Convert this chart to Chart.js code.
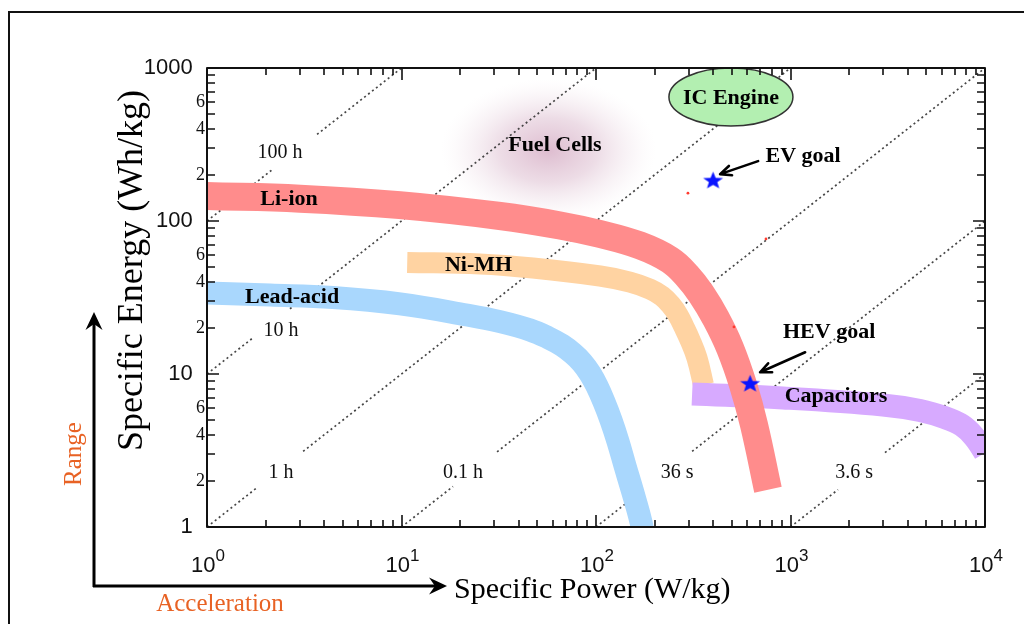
<!DOCTYPE html>
<html>
<head>
<meta charset="utf-8">
<script src="https://cdn.jsdelivr.net/npm/chart.js"></script>
<style>
html,body{margin:0;padding:0;background:#fff;overflow:hidden}
canvas{display:block}
</style>
</head>
<body>
<canvas id="c" width="1024" height="624"></canvas>
<script>
// ---------------- data ----------------
const durationHours  = [100, 10, 1, 0.1, 0.01, 0.001];
const durationLabels = ['100 h', '10 h', '1 h', '0.1 h', '36 s', '3.6 s'];

const leadAcidPower  = [1, 2.11, 4.44, 9.83, 21.7, 32.1, 45.8, 56.6, 66.9, 76.1, 84.7, 93.2, 101.2, 109.9, 119.4, 129.8, 141, 155, 170.3, 176.5];
const leadAcidEnergy = [33.8, 32.8, 31.6, 28.7, 24.3, 22.0, 19.4, 17.3, 15.4, 13.6, 11.9, 10.08, 8.33, 6.58, 5.0, 3.62, 2.51, 1.67, 1.078, 0.822];

const niMHPower  = [10.7, 25.3, 47.4, 104.9, 149.5, 189.5, 218.5, 243, 264, 283.5, 304.3, 330.6, 357];
const niMHEnergy = [53.6, 52.4, 49.3, 43.7, 39.9, 35.9, 32.3, 28.2, 24.3, 20.3, 16.7, 12.7, 8.48];

const liIonPower  = [1, 3.01, 9.8, 32.1, 65.3, 105, 168, 240, 293.8, 346.6, 414, 488.6, 570, 649, 766];
const liIonEnergy = [145.6, 140, 127, 107.8, 93.5, 82.2, 69.2, 55.6, 43.9, 33.5, 23.0, 14.8, 8.51, 4.66, 1.75];

const capacitorPower  = [312, 915, 2990, 4634, 6228, 7615, 8778, 10000, 11394];
const capacitorEnergy = [7.4, 6.97, 6.27, 5.77, 5.18, 4.61, 3.90, 3.05, 2.22];

const goalNames  = ['EV goal', 'HEV goal'];
const goalPower  = [400, 620];
const goalEnergy = [185, 8.7];

const speckPower  = [297, 748, 512];
const speckEnergy = [152, 76.3, 20.3];

const powerDecades   = [1, 10, 100, 1000, 10000];
const powerExponents = ['0', '1', '2', '3', '4'];
const energyMinorLabels = [2, 4, 6];

// ---------------- helpers ----------------
const zip = (ps, es) => ps.map((p, i) => ({x: p, y: es[i]}));
const lg = v => Math.log10(v);
const isDecade = v => Math.abs(lg(v) - Math.round(lg(v))) < 1e-9;
const significand = v => v / Math.pow(10, Math.floor(lg(v) + 1e-9));
const wholeSig = v => Math.abs(significand(v) - Math.round(significand(v))) < 1e-6;

// ---------------- annotation layout (positions / styles) ----------------
const dotColor = 'rgba(50,50,50,0.9)';
const timeLabelSpots = [
  {p: 2.37, e: 278,  gap: [2.16, 3.68]},
  {p: 2.40, e: 19.1, gap: [1.70, 2.67]},
  {p: 2.40, e: 2.25, gap: [1.81, 3.12]},
  {p: 20.7, e: 2.25, gap: [18.4, 31.0]},
  {p: 261,  e: 2.25, gap: [141, 312]},
  {p: 2122, e: 2.25, gap: [1755, 3060]}
];
const bandLabelSpots = [
  {text: 'Li-ion',     p: 2.64, e: 139},
  {text: 'Ni-MH',      p: 24.9, e: 51.6},
  {text: 'Lead-acid',  p: 2.74, e: 31.9},
  {text: 'Capacitors', p: 1714, e: 7.18},
  {text: 'Fuel Cells', p: 61.5, e: 314}
];
const goalAnnot = [
  {text: [90, -24], tail: [45, -19], tip: [7, -6]},
  {text: [79, -51], tail: [55, -31], tip: [10, -11]}
];
const fuelCellSpot = {p: 57, e: 290, rx: 108, ry: 72};
const icEngineSpot = {text: 'IC Engine', p: 494, e: 646, rx: 62, ry: 29};

function makeStar(R, color) {
  const c = document.createElement('canvas');
  const s = Math.ceil(R * 2 + 4);
  c.width = s; c.height = s;
  const g = c.getContext('2d');
  g.translate(s / 2, s / 2 + R * 0.08);
  g.beginPath();
  for (let k = 0; k < 10; k++) {
    const r = k % 2 ? R * 0.42 : R;
    const a = -Math.PI / 2 + k * Math.PI / 5;
    g.lineTo(r * Math.cos(a), r * Math.sin(a) * 0.88);
  }
  g.closePath();
  g.fillStyle = color;
  g.fill();
  return c;
}
const starImg = makeStar(10.5, '#0a14ff');

// ---------------- datasets ----------------
const timeLineDatasets = durationHours.map((t, i) => {
  const p0 = Math.max(1, 1 / t), p1 = Math.min(10000, 1000 / t);
  const g = timeLabelSpots[i].gap;
  return {
    type: 'line', label: durationLabels[i],
    data: [p0, g[0], g[1], p1].map(p => ({x: p, y: t * p})),
    borderColor: dotColor, borderWidth: 1.7, borderDash: [2, 3],
    pointRadius: 0, tension: 0, fill: false, clip: 0, order: 10,
    segment: {borderColor: ctx => ctx.p0DataIndex === 1 ? 'rgba(0,0,0,0)' : dotColor}
  };
});

function band(label, ps, es, color, width, order) {
  return {
    type: 'line', label, data: zip(ps, es),
    borderColor: color, borderWidth: width,
    borderCapStyle: 'butt', borderJoinStyle: 'round',
    tension: 0.4, capBezierPoints: false,
    pointRadius: 0, fill: false, clip: 0, order
  };
}

const datasets = [
  {type: 'line', label: 'Goals', data: zip(goalPower, goalEnergy), showLine: false,
   pointStyle: starImg, pointRadius: 10, order: 0, clip: false},
  {type: 'line', label: 'specks', data: zip(speckPower, speckEnergy), showLine: false,
   pointStyle: 'circle', pointRadius: 1.4, pointBorderWidth: 0,
   pointBackgroundColor: '#ff3b2f', order: 1},
  band('Li-ion', liIonPower, liIonEnergy, '#ff8c8c', 28, 2),
  band('Capacitors', capacitorPower, capacitorEnergy, '#d7aaff', 23, 3),
  band('Ni-MH', niMHPower, niMHEnergy, '#ffd3a2', 21, 4),
  band('Lead-acid', leadAcidPower, leadAcidEnergy, '#a9d7fd', 23, 5),
  ...timeLineDatasets
];

// ---------------- plugin for annotations, frame & inward ticks ----------------
function arrowHeadOpen(ctx, x0, y0, x1, y1, len, ang) {
  const a = Math.atan2(y1 - y0, x1 - x0);
  ctx.beginPath();
  ctx.moveTo(x0, y0); ctx.lineTo(x1, y1);
  ctx.moveTo(x1 - len * Math.cos(a - ang), y1 - len * Math.sin(a - ang));
  ctx.lineTo(x1, y1);
  ctx.lineTo(x1 - len * Math.cos(a + ang), y1 - len * Math.sin(a + ang));
  ctx.stroke();
}
function arrowFilled(ctx, x0, y0, x1, y1) {
  const a = Math.atan2(y1 - y0, x1 - x0);
  const c = Math.cos(a), s = Math.sin(a);
  ctx.beginPath();
  ctx.moveTo(x0, y0); ctx.lineTo(x1 - 10 * c, y1 - 10 * s);
  ctx.stroke();
  const pt = (u, v) => [x1 + u * c - v * s, y1 + u * s + v * c];
  ctx.beginPath();
  let q = pt(0, 0); ctx.moveTo(q[0], q[1]);
  q = pt(-18, -8.5); ctx.lineTo(q[0], q[1]);
  q = pt(-12, 0); ctx.lineTo(q[0], q[1]);
  q = pt(-18, 8.5); ctx.lineTo(q[0], q[1]);
  ctx.closePath(); ctx.fill();
}

const ragonePlugin = {
  id: 'ragone',
  beforeDraw(chart) {
    const ctx = chart.ctx;
    ctx.save();
    ctx.fillStyle = '#fff';
    ctx.fillRect(0, 0, chart.width, chart.height);
    ctx.fillStyle = '#111';
    ctx.fillRect(8, 11, chart.width - 8, 2);
    ctx.fillRect(8, 11, 2, chart.height - 11);
    ctx.restore();
  },
  beforeDatasetsDraw(chart) {
    const {ctx, chartArea: a, scales: {x, y}} = chart;
    const cx = x.getPixelForValue(fuelCellSpot.p), cy = y.getPixelForValue(fuelCellSpot.e);
    ctx.save();
    ctx.beginPath(); ctx.rect(a.left, a.top, a.right - a.left, a.bottom - a.top); ctx.clip();
    ctx.translate(cx, cy);
    ctx.scale(1, fuelCellSpot.ry / fuelCellSpot.rx);
    const g = ctx.createRadialGradient(0, 0, 0, 0, 0, fuelCellSpot.rx);
    g.addColorStop(0, 'rgba(185,115,155,0.48)');
    g.addColorStop(0.45, 'rgba(195,140,172,0.3)');
    g.addColorStop(0.8, 'rgba(215,180,200,0.1)');
    g.addColorStop(1, 'rgba(240,220,230,0)');
    ctx.fillStyle = g;
    ctx.beginPath(); ctx.arc(0, 0, fuelCellSpot.rx, 0, Math.PI * 2); ctx.fill();
    ctx.restore();
  },
  afterDatasetsDraw(chart) {
    const {ctx, chartArea: a, scales: {x, y}} = chart;
    const X = v => x.getPixelForValue(v), Y = v => y.getPixelForValue(v);
    ctx.save();
    // IC engine
    const ex = X(icEngineSpot.p), ey = Y(icEngineSpot.e);
    ctx.beginPath();
    ctx.ellipse(ex, ey, icEngineSpot.rx, icEngineSpot.ry, 0, 0, Math.PI * 2);
    ctx.fillStyle = '#b3efb1'; ctx.fill();
    ctx.lineWidth = 1.5; ctx.strokeStyle = '#333'; ctx.stroke();
    ctx.fillStyle = '#000';
    ctx.font = 'bold 22px "Liberation Serif"';
    ctx.textAlign = 'center'; ctx.textBaseline = 'middle';
    ctx.fillText(icEngineSpot.text, ex, ey + 1);
    // band labels
    bandLabelSpots.forEach(s => ctx.fillText(s.text, X(s.p), Y(s.e)));
    // time labels
    ctx.font = '20px "Liberation Serif"';
    ctx.fillStyle = '#111';
    timeLabelSpots.forEach((s, i) => ctx.fillText(durationLabels[i], X(s.p), Y(s.e)));
    // goals
    ctx.font = 'bold 22px "Liberation Serif"';
    ctx.fillStyle = '#000'; ctx.strokeStyle = '#000'; ctx.lineWidth = 2.6;
    ctx.lineCap = 'round'; ctx.lineJoin = 'round';
    goalNames.forEach((name, i) => {
      const sx = X(goalPower[i]), sy = Y(goalEnergy[i]);
      const an = goalAnnot[i];
      ctx.fillText(name, sx + an.text[0], sy + an.text[1]);
      arrowHeadOpen(ctx, sx + an.tail[0], sy + an.tail[1], sx + an.tip[0], sy + an.tip[1], 12, 0.42);
    });
    // frame
    ctx.lineCap = 'butt';
    ctx.strokeStyle = '#111'; ctx.lineWidth = 2;
    ctx.strokeRect(a.left, a.top, a.right - a.left, a.bottom - a.top);
    // inward ticks
    ctx.lineWidth = 1.6;
    ctx.beginPath();
    x.ticks.forEach(t => {
      const px = Math.round(X(t.value));
      const len = isDecade(t.value) ? 12 : 7;
      ctx.moveTo(px, a.bottom); ctx.lineTo(px, a.bottom - len);
      ctx.moveTo(px, a.top); ctx.lineTo(px, a.top + len);
    });
    y.ticks.forEach(t => {
      const py = Math.round(Y(t.value));
      const len = isDecade(t.value) ? 12 : 8;
      ctx.moveTo(a.left, py); ctx.lineTo(a.left + len, py);
      ctx.moveTo(a.right, py); ctx.lineTo(a.right - len, py);
    });
    ctx.stroke();
    // x decade labels 10^n
    ctx.fillStyle = '#111';
    ctx.textBaseline = 'alphabetic'; ctx.textAlign = 'left';
    powerDecades.forEach((v, i) => {
      const px = X(v);
      ctx.font = '22px "Liberation Sans"';
      const wm = ctx.measureText('10').width;
      ctx.font = '17px "Liberation Sans"';
      const ws = ctx.measureText(powerExponents[i]).width;
      const x0 = px - (wm + ws) / 2 + 1;
      ctx.font = '22px "Liberation Sans"';
      ctx.fillText('10', x0, 572);
      ctx.font = '17px "Liberation Sans"';
      ctx.fillText(powerExponents[i], x0 + wm, 561);
    });
    ctx.restore();
  },
  afterDraw(chart) {
    const ctx = chart.ctx;
    ctx.save();
    ctx.strokeStyle = '#000'; ctx.fillStyle = '#000'; ctx.lineWidth = 3;
    ctx.lineCap = 'butt';
    arrowFilled(ctx, 94, 587, 94, 312);
    arrowFilled(ctx, 93, 586, 447, 586);
    ctx.fillStyle = 'rgb(232,98,36)';
    ctx.font = '25px "Liberation Serif"';
    ctx.textAlign = 'center'; ctx.textBaseline = 'middle';
    ctx.fillText('Acceleration', 220, 604);
    ctx.translate(74, 454);
    ctx.rotate(-Math.PI / 2);
    ctx.fillText('Range', 0, 0);
    ctx.restore();
  }
};

// ---------------- chart ----------------
new Chart(document.getElementById('c'), {
  type: 'line',
  data: {datasets},
  options: {
    responsive: false,
    animation: false,
    events: [],
    layout: {padding: {left: 0, right: 39, top: 68, bottom: 0}},
    plugins: {legend: {display: false}, tooltip: {enabled: false}},
    scales: {
      x: {
        type: 'logarithmic', position: 'bottom', min: 1, max: 10000,
        grid: {display: false, drawTicks: false},
        border: {display: false},
        ticks: {display: false, autoSkip: false},
        afterBuildTicks: s => { s.ticks = s.ticks.filter(t => wholeSig(t.value)); },
        afterFit: s => { s.height = 97; },
        title: {
          display: true, text: 'Specific Power (W/kg) ',
          color: '#000',
          font: {family: 'Liberation Serif', size: 30},
          padding: {top: 0, bottom: 16}
        }
      },
      y: {
        type: 'logarithmic', position: 'left', min: 1, max: 1000,
        grid: {display: false, drawTicks: false},
        border: {display: false},
        afterBuildTicks: s => { s.ticks = s.ticks.filter(t => wholeSig(t.value)); },
        afterFit: s => { s.width = 207; },
        ticks: {
          autoSkip: false, padding: 2, color: '#111',
          font: ctx => (ctx.tick && isDecade(ctx.tick.value))
            ? {family: 'Liberation Sans', size: 22}
            : {family: 'Liberation Serif', size: 18},
          callback: v => {
            if (isDecade(v)) return String(Math.round(v)) + '  ';
            const d = Math.round(significand(v));
            return energyMinorLabels.includes(d) ? String(d) : '';
          }
        },
        title: {
          display: true, text: '      Specific Energy (Wh/kg)',
          color: '#000',
          font: {family: 'Liberation Serif', size: 36},
          padding: {top: 111, bottom: 0}
        }
      }
    }
  },
  plugins: [ragonePlugin]
});
</script>
</body>
</html>
